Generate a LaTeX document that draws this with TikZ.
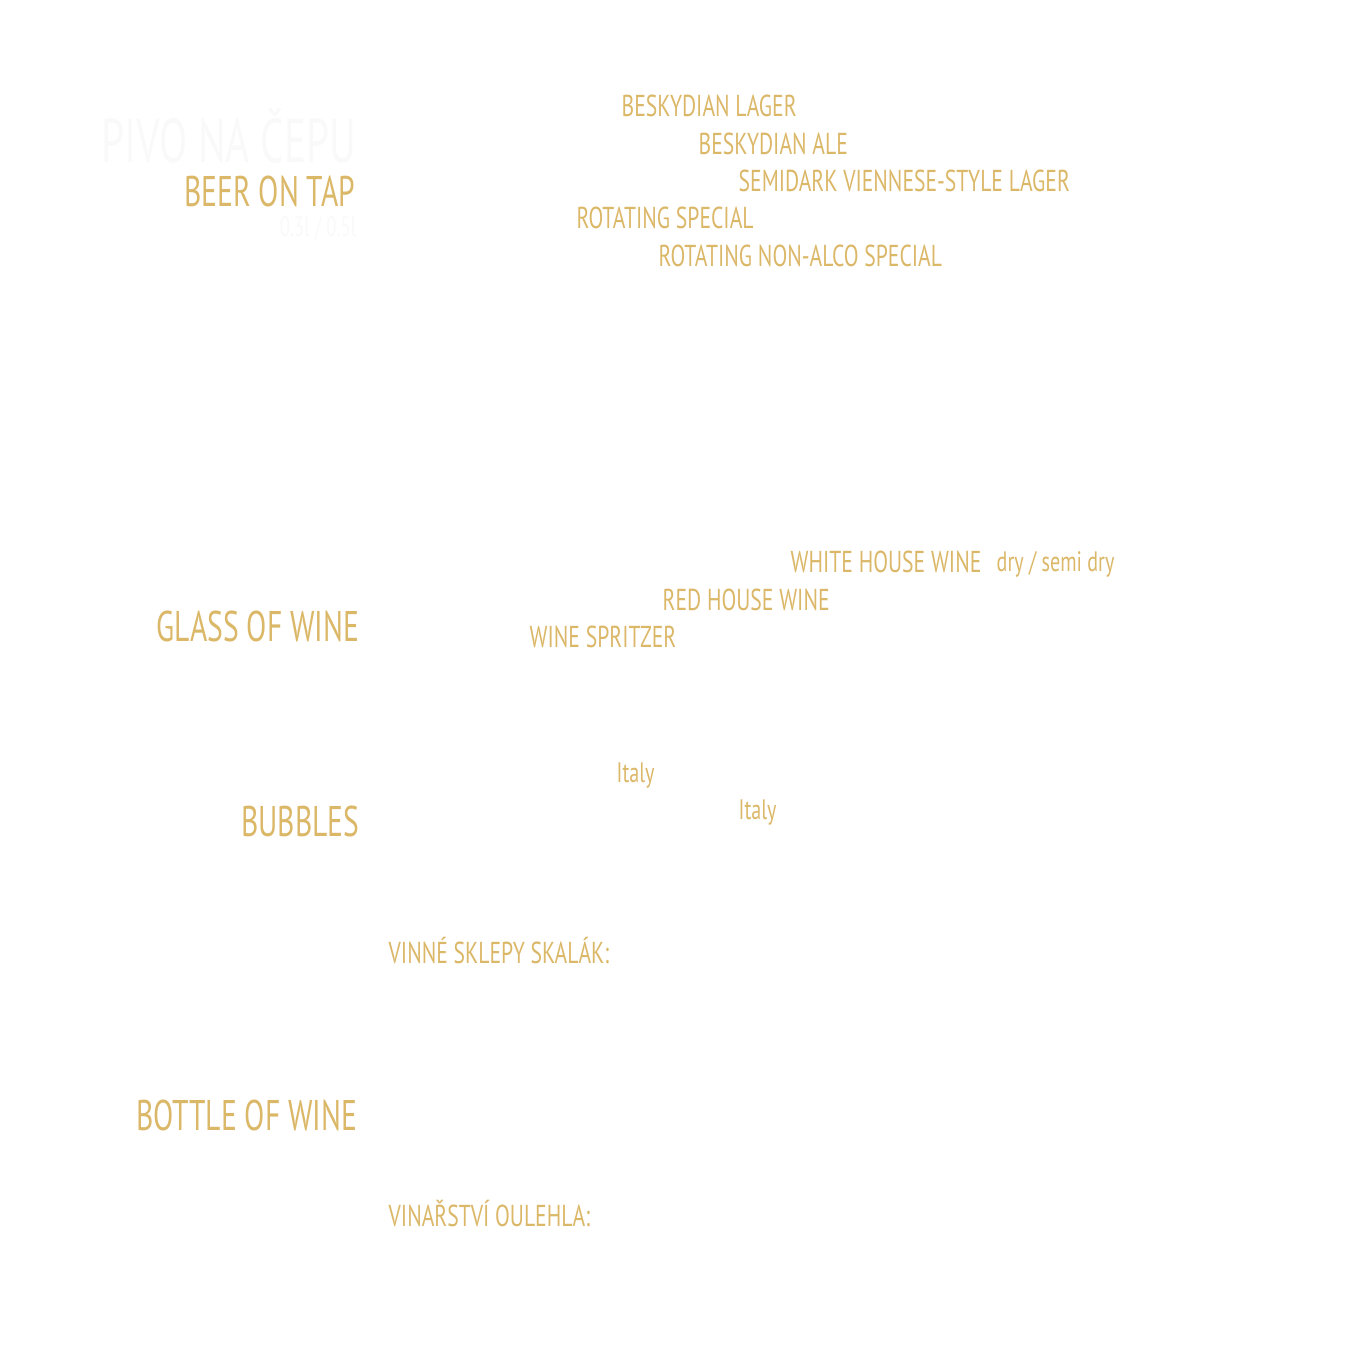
\documentclass[tikz,border=0pt]{standalone}
\usepackage{fontspec}
\setmainfont{PT Sans}[FakeStretch=0.715]
\newfontfamily\headfont{PT Sans}[FakeStretch=0.69]
\newfontfamily\ghostfont{PT Sans}[FakeStretch=0.665]
\usepackage{tikz}
\usetikzlibrary{positioning}
\definecolor{gold}{RGB}{219,183,104}
\definecolor{faint}{RGB}{249,249,249}

\begin{document}
\begin{tikzpicture}[x=0.01cm,y=-0.01cm,
	heading/.style={anchor=east,inner sep=0pt,text=gold,font=\headfont\fontsize{12.2}{14}\selectfont},
	item/.style={anchor=west,inner sep=0pt,text=gold,font=\fontsize{8.6}{10}\selectfont},
	note/.style={anchor=west,inner sep=0pt,text=gold,font=\fontsize{8}{10}\selectfont},
	ghost/.style={anchor=east,inner sep=0pt,text=faint}]
	
	\useasboundingbox (0,0) rectangle (1350,1350);
	
	% beer on tap
	\node[ghost,font=\ghostfont\fontsize{17.6}{20}\selectfont] (pivo) at (357,136) {PIVO NA ČEPU};
	\node[heading] (beer) at (356,191) {BEER ON TAP};
	\node[ghost,font=\ghostfont\fontsize{8}{10}\selectfont] (volume) at (357,228) {0.3l / 0.5l};
	
	\node[item] (lager) at (621,106) {BESKYDIAN LAGER};
	\node[item] (ale) at (698,144) {BESKYDIAN ALE};
	\node[item] (semidark) at (738,181) {SEMIDARK VIENNESE-STYLE LAGER};
	\node[item] (special) at (576,218) {ROTATING SPECIAL};
	\node[item] (nonalco) at (658,256) {ROTATING NON-ALCO SPECIAL};
	
	% glass of wine
	\node[heading] (glass) at (360,626) {GLASS OF WINE};
	\node[item] (white) at (790,562) {WHITE HOUSE WINE};
	\node[note] (dry) at (996,564) {dry / semi dry};
	\node[item] (red) at (662,600) {RED HOUSE WINE};
	\node[item] (spritzer) at (529,637) {WINE SPRITZER};
	
	% bubbles
	\node[heading] (bubbles) at (360,821) {BUBBLES};
	\node[note] (italyA) at (616,776) {Italy};
	\node[note] (italyB) at (738,813) {Italy};
	
	\node[item] (skalak) at (388,951) {VINNÉ SKLEPY SKALÁK:};
	
	% bottle of wine
	\node[heading] (bottle) at (358,1115) {BOTTLE OF WINE};
	\node[item] (oulehla) at (388,1214) {VINAŘSTVÍ OULEHLA:};
	
\end{tikzpicture}
\end{document}
